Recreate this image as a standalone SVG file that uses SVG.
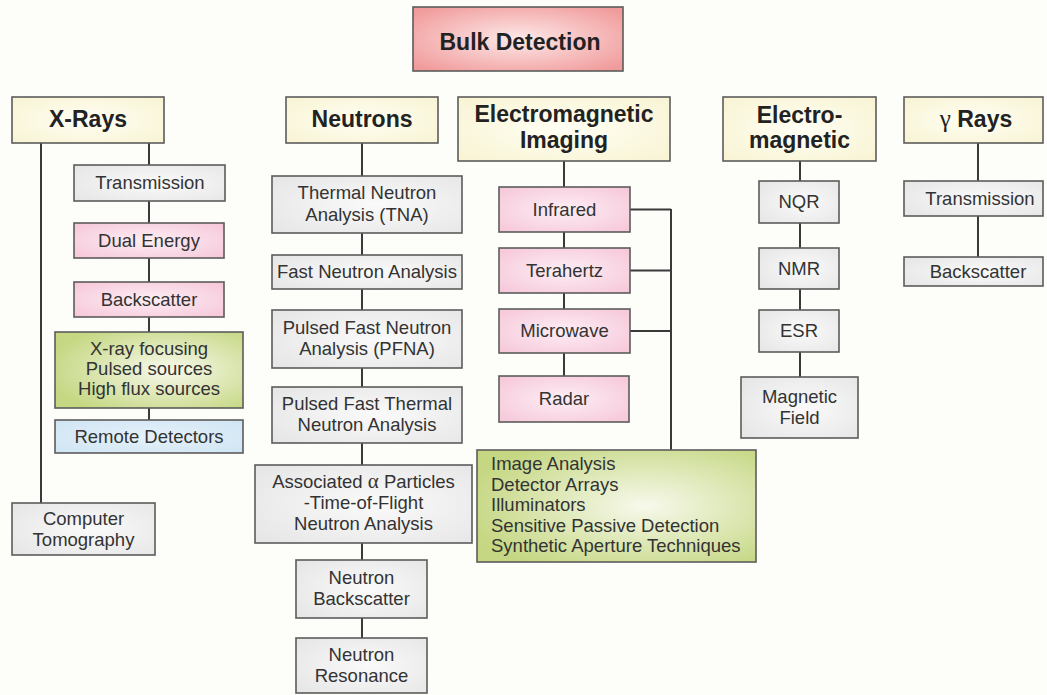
<svg xmlns="http://www.w3.org/2000/svg" width="1047" height="695" viewBox="0 0 1047 695">
  <defs>
    <radialGradient id="gBulk" cx="50%" cy="50%" r="65%">
      <stop offset="0" stop-color="#fde9e9"/>
      <stop offset="1" stop-color="#f19a9a"/>
    </radialGradient>
    <radialGradient id="gHead" cx="50%" cy="50%" r="70%">
      <stop offset="0" stop-color="#fffff4"/>
      <stop offset="1" stop-color="#f8f3d2"/>
    </radialGradient>
    <radialGradient id="gGray" cx="55%" cy="50%" r="70%">
      <stop offset="0" stop-color="#fafafa"/>
      <stop offset="1" stop-color="#e6e6e6"/>
    </radialGradient>
    <radialGradient id="gPink" cx="50%" cy="50%" r="70%">
      <stop offset="0" stop-color="#fdeef4"/>
      <stop offset="1" stop-color="#f6c6d9"/>
    </radialGradient>
    <radialGradient id="gGreen" cx="60%" cy="50%" r="65%">
      <stop offset="0" stop-color="#f7f9ec"/>
      <stop offset="1" stop-color="#c5d782"/>
    </radialGradient>
    <radialGradient id="gBlue" cx="50%" cy="50%" r="70%">
      <stop offset="0" stop-color="#e6f2fa"/>
      <stop offset="1" stop-color="#cfe4f3"/>
    </radialGradient>
    <style>
      .box { stroke: #5c5c5c; stroke-width: 1.6; }
      .bulk { fill: url(#gBulk); }
      .head { fill: url(#gHead); }
      .gray { fill: url(#gGray); }
      .pink { fill: url(#gPink); }
      .green { fill: url(#gGreen); }
      .blue { fill: url(#gBlue); }
      .t { font-family: "Liberation Sans", Arial, sans-serif; font-size: 18.5px; fill: #333; text-anchor: middle; }
      .tl { font-family: "Liberation Sans", Arial, sans-serif; font-size: 18.5px; fill: #333; }
      .h { font-family: "Liberation Sans", Arial, sans-serif; font-size: 23px; font-weight: bold; fill: #222; text-anchor: middle; }
      .sym { font-family: "Liberation Serif", serif; font-weight: normal; }
      .conn line { stroke: #3a3a3a; stroke-width: 2; }
    </style>
  </defs>

  <rect width="1047" height="695" fill="#fdfdfa"/>

  <!-- connectors -->
  <g id="connectors" class="conn">
    <line x1="41" y1="143" x2="41" y2="503"/>
    <line x1="149" y1="143" x2="149" y2="420"/>
    <line x1="362" y1="143" x2="362" y2="638"/>
    <line x1="564" y1="161" x2="564" y2="376"/>
    <line x1="671" y1="209" x2="671" y2="450"/>
    <line x1="630" y1="209.5" x2="671" y2="209.5"/>
    <line x1="630" y1="270.5" x2="671" y2="270.5"/>
    <line x1="630" y1="331" x2="671" y2="331"/>
    <line x1="800" y1="161" x2="800" y2="377"/>
    <line x1="978" y1="143" x2="978" y2="257"/>
  </g>

  <!-- root -->
  <g id="bulk-detection">
    <rect class="box bulk" x="413" y="7" width="210" height="64"/>
    <text class="h" x="520" y="50">Bulk Detection</text>
  </g>

  <!-- X-ray branch -->
  <g id="x-rays">
    <rect class="box head" x="12" y="97" width="152" height="46"/>
    <text class="h" x="88" y="127">X-Rays</text>
  </g>
  <g id="xr-transmission">
    <rect class="box gray" x="74" y="165" width="151" height="36"/>
    <text class="t" x="150" y="189">Transmission</text>
  </g>
  <g id="xr-dual-energy">
    <rect class="box pink" x="74" y="223" width="150" height="35"/>
    <text class="t" x="149" y="247">Dual Energy</text>
  </g>
  <g id="xr-backscatter">
    <rect class="box pink" x="74" y="282" width="150" height="35"/>
    <text class="t" x="149" y="306">Backscatter</text>
  </g>
  <g id="xr-sources">
    <rect class="box green" x="55" y="332" width="188" height="76"/>
    <text class="t" x="149" y="355">X-ray focusing</text>
    <text class="t" x="149" y="375">Pulsed sources</text>
    <text class="t" x="149" y="395">High flux sources</text>
  </g>
  <g id="xr-remote">
    <rect class="box blue" x="55" y="420" width="188" height="33"/>
    <text class="t" x="149" y="443">Remote Detectors</text>
  </g>
  <g id="xr-tomography">
    <rect class="box gray" x="12" y="503" width="143" height="52"/>
    <text class="t" x="83.5" y="525">Computer</text>
    <text class="t" x="83.5" y="546">Tomography</text>
  </g>

  <!-- Neutron branch -->
  <g id="neutrons">
    <rect class="box head" x="286" y="97" width="152" height="46"/>
    <text class="h" x="362" y="127">Neutrons</text>
  </g>
  <g id="n-tna">
    <rect class="box gray" x="272" y="176" width="190" height="57"/>
    <text class="t" x="367" y="199">Thermal Neutron</text>
    <text class="t" x="367" y="221">Analysis (TNA)</text>
  </g>
  <g id="n-fna">
    <rect class="box gray" x="272" y="255" width="190" height="34"/>
    <text class="t" x="367" y="278">Fast Neutron Analysis</text>
  </g>
  <g id="n-pfna">
    <rect class="box gray" x="272" y="310" width="190" height="58"/>
    <text class="t" x="367" y="334">Pulsed Fast Neutron</text>
    <text class="t" x="367" y="355">Analysis (PFNA)</text>
  </g>
  <g id="n-pftna">
    <rect class="box gray" x="272" y="387" width="190" height="56"/>
    <text class="t" x="367" y="410">Pulsed Fast Thermal</text>
    <text class="t" x="367" y="431">Neutron Analysis</text>
  </g>
  <g id="n-alpha-tof">
    <rect class="box gray" x="255" y="465" width="217" height="78"/>
    <text class="t" x="363.5" y="488">Associated <tspan class="sym" font-size="21">α</tspan> Particles</text>
    <text class="t" x="363.5" y="509">-Time-of-Flight</text>
    <text class="t" x="363.5" y="530">Neutron Analysis</text>
  </g>
  <g id="n-backscatter">
    <rect class="box gray" x="296" y="560" width="131" height="58"/>
    <text class="t" x="361.5" y="584">Neutron</text>
    <text class="t" x="361.5" y="605">Backscatter</text>
  </g>
  <g id="n-resonance">
    <rect class="box gray" x="296" y="638" width="131" height="55"/>
    <text class="t" x="361.5" y="661">Neutron</text>
    <text class="t" x="361.5" y="682">Resonance</text>
  </g>

  <!-- Electromagnetic imaging branch -->
  <g id="em-imaging">
    <rect class="box head" x="458" y="97" width="212" height="64"/>
    <text class="h" x="564" y="122">Electromagnetic</text>
    <text class="h" x="564" y="148">Imaging</text>
  </g>
  <g id="emi-infrared">
    <rect class="box pink" x="499" y="187" width="131" height="45"/>
    <text class="t" x="564.5" y="216">Infrared</text>
  </g>
  <g id="emi-terahertz">
    <rect class="box pink" x="499" y="248" width="131" height="45"/>
    <text class="t" x="564.5" y="277">Terahertz</text>
  </g>
  <g id="emi-microwave">
    <rect class="box pink" x="499" y="309" width="131" height="44"/>
    <text class="t" x="564.5" y="337">Microwave</text>
  </g>
  <g id="emi-radar">
    <rect class="box pink" x="499" y="376" width="130" height="46"/>
    <text class="t" x="564" y="405">Radar</text>
  </g>
  <g id="emi-techniques">
    <rect class="box green" x="477" y="450" width="279" height="112"/>
    <text class="tl" x="491" y="470">Image Analysis</text>
    <text class="tl" x="491" y="490.5">Detector Arrays</text>
    <text class="tl" x="491" y="511">Illuminators</text>
    <text class="tl" x="491" y="531.5">Sensitive Passive Detection</text>
    <text class="tl" x="491" y="552">Synthetic Aperture Techniques</text>
  </g>

  <!-- Electromagnetic (resonance) branch -->
  <g id="electro-magnetic">
    <rect class="box head" x="723" y="97" width="153" height="64"/>
    <text class="h" x="799.5" y="123">Electro-</text>
    <text class="h" x="799.5" y="148">magnetic</text>
  </g>
  <g id="em-nqr">
    <rect class="box gray" x="759" y="181" width="80" height="42"/>
    <text class="t" x="799" y="208">NQR</text>
  </g>
  <g id="em-nmr">
    <rect class="box gray" x="759" y="248" width="80" height="41"/>
    <text class="t" x="799" y="275">NMR</text>
  </g>
  <g id="em-esr">
    <rect class="box gray" x="759" y="310" width="80" height="42"/>
    <text class="t" x="799" y="337">ESR</text>
  </g>
  <g id="em-magnetic-field">
    <rect class="box gray" x="741" y="377" width="117" height="61"/>
    <text class="t" x="799.5" y="403">Magnetic</text>
    <text class="t" x="799.5" y="424">Field</text>
  </g>

  <!-- Gamma ray branch -->
  <g id="gamma-rays">
    <rect class="box head" x="904" y="97" width="139" height="46"/>
    <text class="h" x="976" y="127"><tspan class="sym" font-size="25">γ</tspan> Rays</text>
  </g>
  <g id="g-transmission">
    <rect class="box gray" x="904" y="181" width="139" height="35"/>
    <text class="t" x="980" y="205">Transmission</text>
  </g>
  <g id="g-backscatter">
    <rect class="box gray" x="904" y="257" width="139" height="29"/>
    <text class="t" x="978" y="278">Backscatter</text>
  </g>
</svg>
